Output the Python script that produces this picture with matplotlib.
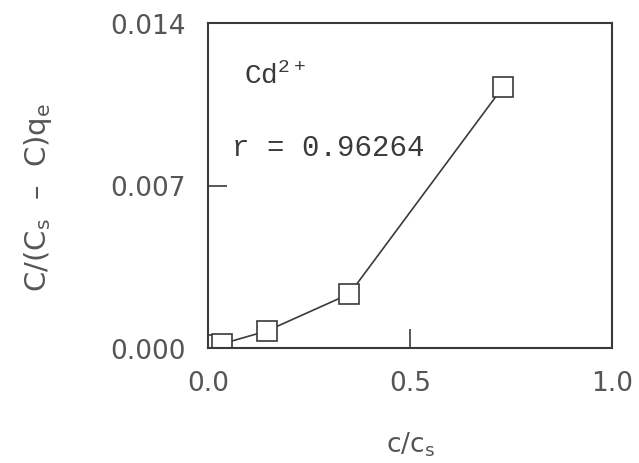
import numpy as np
import matplotlib
matplotlib.use("Agg")
import matplotlib.pyplot as plt

# relative concentration and linearised isotherm values
c_ratio = [0.008, 0.02, 0.035, 0.145, 0.35, 0.73]
y_vals = [0.00008, 0.00012, 0.00018, 0.00073, 0.00233, 0.01124]

x_ticks = [0.0, 0.5, 1.0]
y_ticks = [0.000, 0.007, 0.014]

ink = "#3a3a3a"
fig = plt.figure(figsize=(6.39, 4.64), dpi=100)
ax = fig.add_axes([208/639, 1 - 349/464, 404/639, 325/464])

ax.plot(c_ratio, y_vals, color=ink, lw=1.2, marker='s', markersize=14,
        markerfacecolor='white', markeredgecolor=ink, markeredgewidth=1.2)

ax.set_xlim(0, 0.99)
ax.set_ylim(0, 0.014)
ax.set_xticks(x_ticks)
ax.set_yticks(y_ticks)
ax.set_xticklabels(["0.0", "0.5", "1.0"])
ax.set_yticklabels(["0.000", "0.007", "0.014"])
ax.tick_params(direction='in', length=14, width=1.2, colors=ink)
ax.tick_params(axis='x', labelsize=19, pad=16, labelcolor="#555555")
ax.tick_params(axis='y', labelsize=19, pad=16, labelcolor="#555555")
for s in ax.spines.values():
    s.set_color(ink)
    s.set_linewidth(1.5)

ax.text(0.09, 0.0114, r"Cd$^{\mathregular{2+}}$", fontsize=20,
        family="Liberation Mono", color=ink)
ax.text(0.06, 0.0083, "r = 0.96264", fontsize=21,
        family="Liberation Mono", color=ink)

ax.set_xlabel(r"c/c$_\mathregular{s}$", fontsize=19, color="#555555")
ax.set_ylabel(r"C/(C$_\mathregular{s}$  –  C)q$_\mathregular{e}$",
              fontsize=21, color="#555555")
ax.xaxis.set_label_coords(0.5, -0.25)
ax.yaxis.set_label_coords(-0.38, 0.465)

fig.savefig("out.png", dpi=100)
